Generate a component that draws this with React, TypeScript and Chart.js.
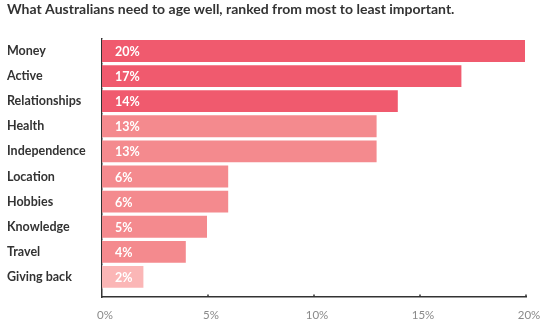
import React, { useEffect, useRef } from "react";
import { Chart, registerables } from "chart.js";

Chart.register(...registerables);

const TITLE = "What Australians need to age well, ranked from most to least important.";
const categories = ["Money", "Active", "Relationships", "Health", "Independence", "Location", "Hobbies", "Knowledge", "Travel", "Giving back"];
const values = [20, 17, 14, 13, 13, 6, 6, 5, 4, 2];
const barColors = ["#f05a6e", "#f05a6e", "#f05a6e", "#f48a8e", "#f48a8e", "#f48a8e", "#f48a8e", "#f48a8e", "#f48a8e", "#fbb6b6"];
const xTicks = [0, 5, 10, 15, 20];

const FONT = "Lato";

const overlayPlugin = {
  id: "overlay",
  afterDatasetsDraw(chart: any) {
    const ctx = chart.ctx;
    const meta = chart.getDatasetMeta(0);
    const xs = chart.scales.x;
    const area = chart.chartArea;
    ctx.save();
    ctx.fillStyle = "#ffffff";
    ctx.font = `bold 12.5px ${FONT}`;
    ctx.textAlign = "left";
    ctx.textBaseline = "middle";
    meta.data.forEach((bar: any, i: number) => {
      ctx.fillText(values[i] + "%", area.left + 13, bar.y + 1);
    });
    ctx.strokeStyle = "#333333";
    ctx.lineWidth = 1.5;
    xTicks.slice(1).forEach((t) => {
      const px = xs.getPixelForValue(t);
      ctx.beginPath();
      ctx.moveTo(px, area.bottom);
      ctx.lineTo(px, area.bottom - 2.5);
      ctx.stroke();
    });
    ctx.restore();
  },
};

export default function App() {
  const ref = useRef<HTMLCanvasElement>(null);
  useEffect(() => {
    document.body.style.margin = "0";
    const chart = new Chart(ref.current!, {
      type: "bar",
      data: {
        datasets: [
          {
            data: values.map((v, i) => ({ x: v, y: i })),
            backgroundColor: barColors,
            borderColor: "rgba(255,255,255,0.55)",
            borderWidth: 1,
            barPercentage: 0.95,
            categoryPercentage: 1,
          },
        ],
      },
      plugins: [overlayPlugin],
      options: {
        indexAxis: "y",
        animation: false,
        responsive: false,
        layout: { padding: { left: 7, right: 20, top: 0, bottom: 0 } },
        plugins: {
          legend: { display: false },
          tooltip: { enabled: false },
          title: {
            display: true,
            text: TITLE,
            align: "start",
            color: "#333333",
            font: { family: FONT, size: 14, weight: "bold" },
            padding: { top: 1, bottom: 20.6 },
          },
        },
        scales: {
          x: {
            type: "linear",
            min: 0,
            max: 20,
            afterBuildTicks: (s: any) => {
              s.ticks = xTicks.map((v) => ({ value: v }));
            },
            afterFit: (s: any) => {
              s.height = 28;
              s.paddingTop = 0;
              s.paddingBottom = 0;
              s.paddingLeft = 0;
              s.paddingRight = 0;
            },
            ticks: {
              callback: (v: any) => v + "%",
              color: "#8a8a8a",
              font: { family: FONT, size: 11.5 },
              padding: 11,
              labelOffset: 3,
              maxRotation: 0,
            },
            grid: { display: false, drawTicks: false },
            border: { display: true, color: "#333333", width: 1.5 },
          },
          y: {
            type: "linear",
            reverse: true,
            offset: false,
            min: -0.5,
            max: 9.8,
            afterBuildTicks: (s: any) => {
              s.ticks = categories.map((_, i) => ({ value: i }));
            },
            afterFit: (s: any) => {
              s.width = 95;
              s.paddingTop = 0;
              s.paddingBottom = 0;
            },
            ticks: {
              autoSkip: false,
              callback: (v: any) => categories[v as number] ?? "",
              color: "#333333",
              font: { family: FONT, size: 12.5, weight: "bold" },
              crossAlign: "far",
              padding: 0,
            },
            grid: { display: false, drawTicks: false, offset: false },
            border: { display: true, color: "#333333", width: 1.5 },
          },
        },
      },
    } as any);
    return () => chart.destroy();
  }, []);
  return <canvas ref={ref} width={546} height={325} style={{ display: "block" }} />;
}
